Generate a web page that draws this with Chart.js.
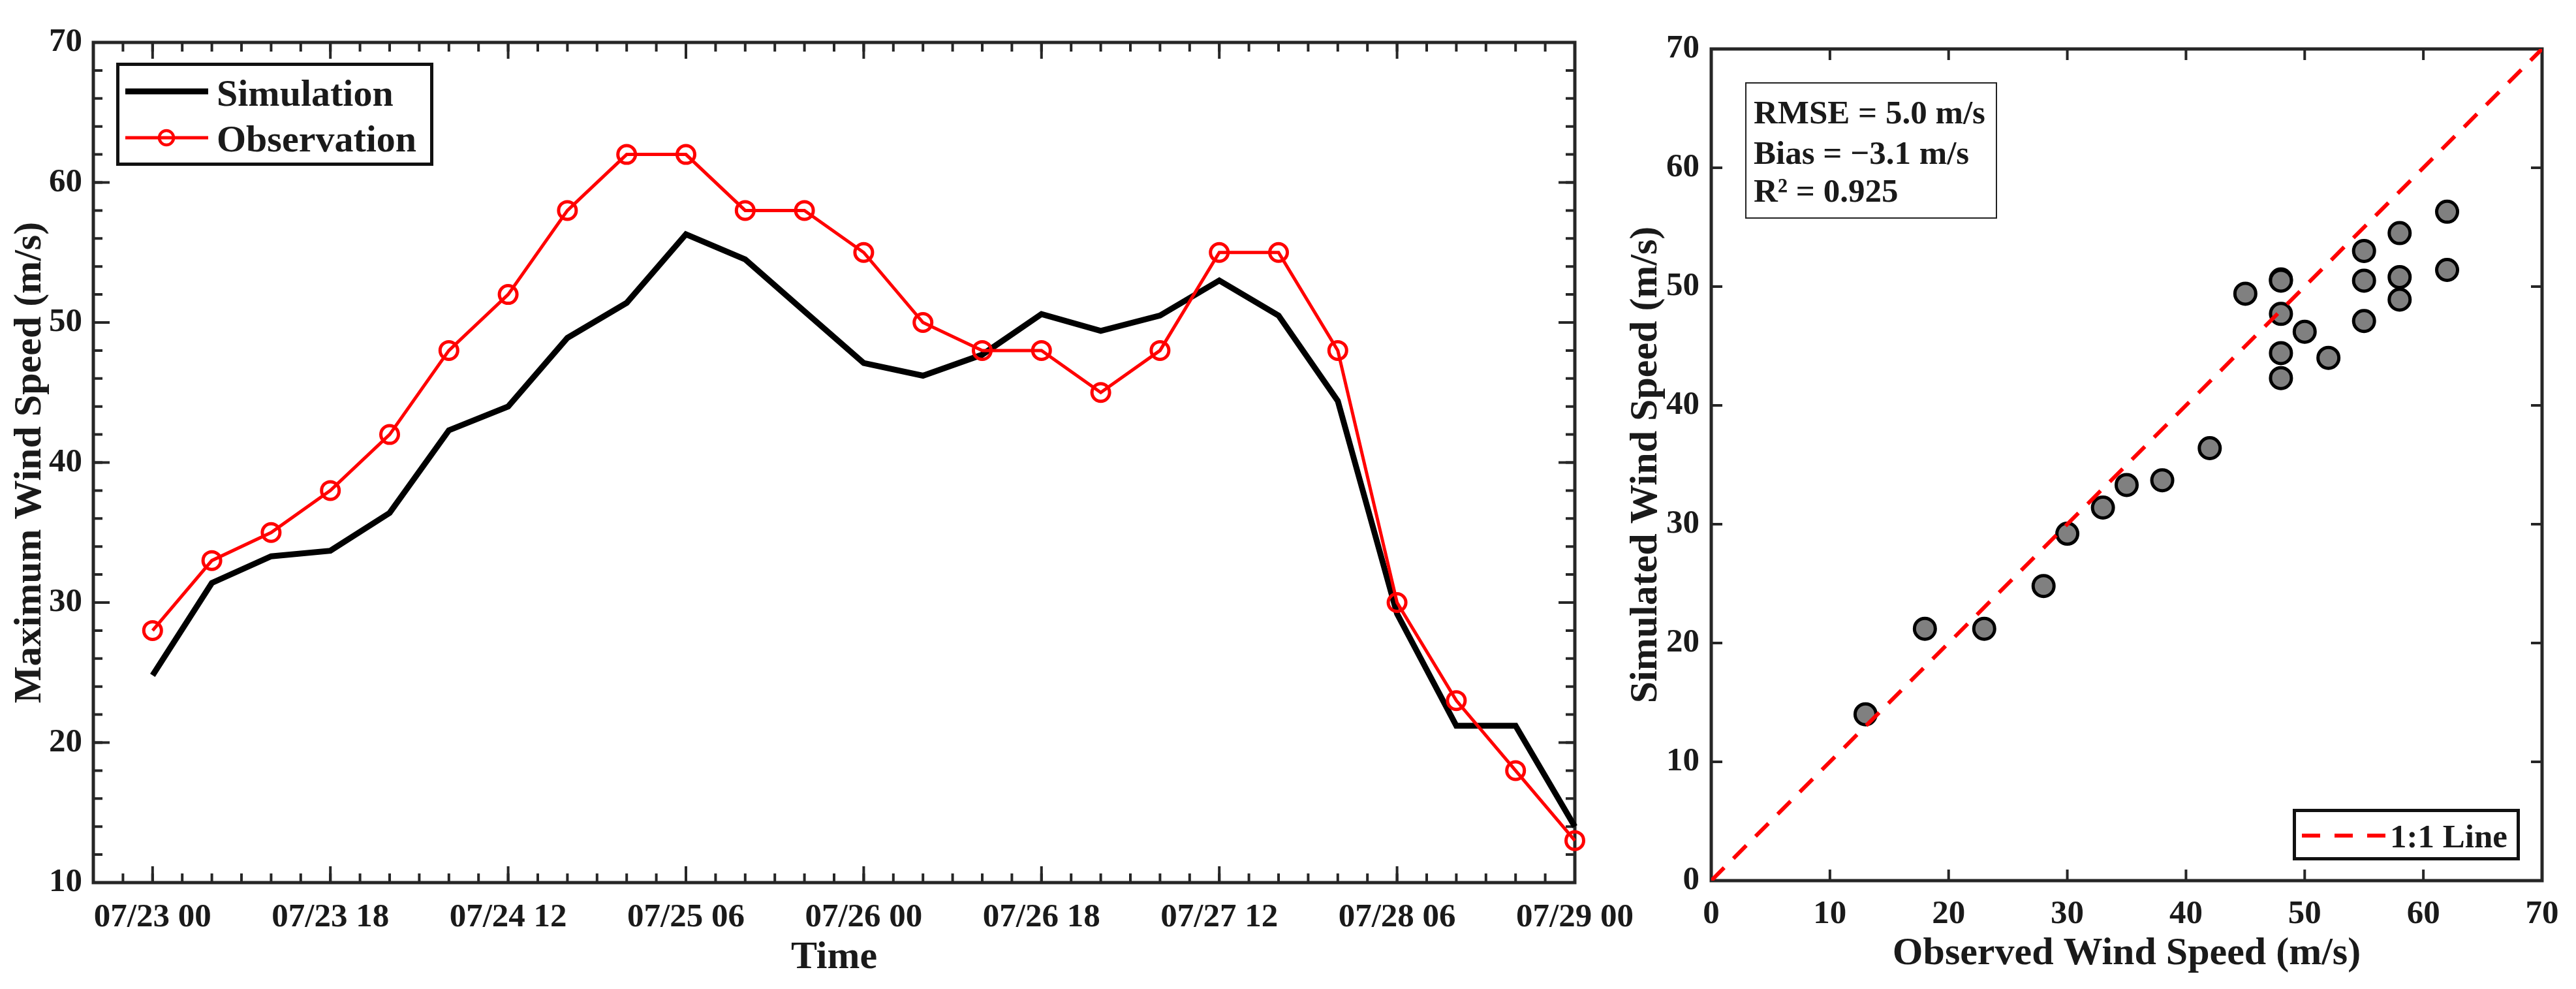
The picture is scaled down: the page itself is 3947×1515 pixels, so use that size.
<!DOCTYPE html>
<html>
<head>
<meta charset="utf-8">
<script src="https://cdn.jsdelivr.net/npm/chart.js@4.4.1/dist/chart.umd.min.js"></script>
<style>
html,body{margin:0;padding:0;background:#fff;width:3947px;height:1515px;overflow:hidden;}
body{font-family:'Liberation Serif','Times New Roman',serif;font-weight:bold;color:#1a1a1a;position:relative;}
canvas{position:absolute;top:0;}
.box{position:absolute;background:#fff;box-sizing:border-box;z-index:2;}
.txt{position:absolute;white-space:nowrap;z-index:4;}
svg.ov{position:absolute;left:0;top:0;z-index:3;pointer-events:none;}
</style>
</head>
<body>
<canvas id="c1" width="2530" height="1515" style="left:0;width:2530px;height:1515px"></canvas>
<canvas id="c2" width="1477" height="1515" style="left:2470px;width:1477px;height:1515px"></canvas>

<!-- left legend -->
<div class="box" style="left:178px;top:96px;width:486px;height:158px;border:5px solid #111;"></div>
<div class="txt" style="left:332px;top:108px;font-size:58px;line-height:70px;">Simulation</div>
<div class="txt" style="left:332px;top:178px;font-size:58px;line-height:70px;">Observation</div>

<!-- stats box -->
<div class="box" style="left:2674px;top:126px;width:386px;height:209px;border:2px solid #222;"></div>
<div class="txt" style="left:2687px;top:142px;font-size:51px;line-height:60px;">RMSE = 5.0 m/s</div>
<div class="txt" style="left:2687px;top:204px;font-size:51px;line-height:60px;">Bias = &minus;3.1 m/s</div>
<div class="txt" style="left:2687px;top:262px;font-size:51px;line-height:60px;">R&sup2; = 0.925</div>

<!-- right legend -->
<div class="box" style="left:3513px;top:1239px;width:348px;height:79px;border:5px solid #111;"></div>
<div class="txt" style="left:3662px;top:1251px;font-size:51px;line-height:60px;">1:1 Line</div>

<svg class="ov" width="3947" height="1515" viewBox="0 0 3947 1515">
  <line x1="192" y1="140" x2="319" y2="140" stroke="#000" stroke-width="9"/>
  <line x1="192" y1="211" x2="319" y2="211" stroke="#ff0000" stroke-width="5"/>
  <circle cx="255" cy="211" r="11" stroke="#ff0000" stroke-width="4.5" fill="none"/>
  <line x1="3527" y1="1280" x2="3655" y2="1280" stroke="#ff0000" stroke-width="6" stroke-dasharray="28 22"/>
</svg>

<script>
// ---------------- DATA ----------------
const timeLabels = [
  '07/23 00','07/23 06','07/23 12','07/23 18',
  '07/24 00','07/24 06','07/24 12','07/24 18',
  '07/25 00','07/25 06','07/25 12','07/25 18',
  '07/26 00','07/26 06','07/26 12','07/26 18',
  '07/27 00','07/27 06','07/27 12','07/27 18',
  '07/28 00','07/28 06','07/28 12','07/28 18',
  '07/29 00'
];
const timeTickLabels = ['07/23 00','07/23 18','07/24 12','07/25 06','07/26 00','07/26 18','07/27 12','07/28 06','07/29 00'];
const simulation  = [24.8,31.4,33.3,33.7,36.4,42.3,44.0,48.9,51.4,56.3,54.5,50.8,47.1,46.2,47.7,50.6,49.4,50.5,53.0,50.5,44.4,29.2,21.2,21.2,14.0];
const observation = [28,33,35,38,42,48,52,58,62,62,58,58,55,50,48,48,45,48,55,55,48,30,23,18,13];
const leftYTicks = [10,20,30,40,50,60,70];
const scatterTicks = [0,10,20,30,40,50,60,70];
const oneToOne = [0,70];

// ---------------- HELPERS ----------------
const FONT = "'Liberation Serif','Times New Roman',serif";
const TXT = '#1a1a1a';
const AX = '#262626';

const framePlugin = {
  id: 'frame',
  beforeDatasetsDraw(chart, args, o) {
    const {ctx, chartArea: a} = chart;
    const xs = chart.scales.x, ys = chart.scales.y;
    ctx.save();
    ctx.strokeStyle = AX;
    ctx.lineCap = 'butt';
    ctx.lineWidth = o.tickWidth;
    const tx = (vals, len) => vals.forEach(v => {
      const p = xs.getPixelForValue(v);
      ctx.beginPath();
      ctx.moveTo(p, a.bottom); ctx.lineTo(p, a.bottom - len);
      ctx.moveTo(p, a.top); ctx.lineTo(p, a.top + len);
      ctx.stroke();
    });
    const ty = (vals, len) => vals.forEach(v => {
      const p = ys.getPixelForValue(v);
      ctx.beginPath();
      ctx.moveTo(a.left, p); ctx.lineTo(a.left + len, p);
      ctx.moveTo(a.right, p); ctx.lineTo(a.right - len, p);
      ctx.stroke();
    });
    tx(o.xMinor, o.minorLen); ty(o.yMinor, o.minorLen);
    tx(o.xMajor, o.majorLen); ty(o.yMajor, o.majorLen);
    ctx.lineWidth = o.frameWidth;
    ctx.strokeRect(a.left, a.top, a.right - a.left, a.bottom - a.top);
    ctx.restore();
  }
};

const majorIdx = timeTickLabels.map(l => timeLabels.indexOf(l));
const xMinorLeft = []; for (let v = -1; v <= timeLabels.length - 1; v += 0.5) xMinorLeft.push(v);
const yMinorLeft = []; for (let v = 10; v <= 70; v += 2) yMinorLeft.push(v);

// ---------------- LEFT CHART ----------------
new Chart(document.getElementById('c1'), {
  type: 'line',
  data: {
    datasets: [
      {
        label: 'Simulation',
        data: simulation.map((y, i) => ({x: i, y})),
        borderColor: '#000', borderWidth: 9, pointRadius: 0, tension: 0,
        clip: false, order: 1, fill: false
      },
      {
        label: 'Observation',
        data: observation.map((y, i) => ({x: i, y})),
        borderColor: '#ff0000', borderWidth: 5, tension: 0,
        pointRadius: 13.5, pointBorderWidth: 5, pointBorderColor: '#ff0000',
        pointBackgroundColor: 'rgba(0,0,0,0)', pointStyle: 'circle',
        clip: false, order: 0, fill: false
      }
    ]
  },
  options: {
    responsive: false, animation: false, devicePixelRatio: 1,
    layout: {padding: {left: 0, top: 65, right: 117, bottom: 0}},
    plugins: {
      legend: {display: false}, tooltip: {enabled: false},
      frame: {xMajor: majorIdx, xMinor: xMinorLeft, yMajor: leftYTicks, yMinor: yMinorLeft,
              majorLen: 25, minorLen: 14, tickWidth: 4, frameWidth: 5}
    },
    scales: {
      x: {
        type: 'linear', min: -1, max: timeLabels.length - 1,
        grid: {display: false}, border: {display: false},
        afterBuildTicks: s => { s.ticks = majorIdx.map(v => ({value: v})); },
        afterFit: s => { s.height = 163; },
        ticks: {
          autoSkip: false, maxRotation: 0, minRotation: 0, padding: 15, color: TXT,
          font: {family: FONT, size: 51, weight: 'bold'},
          callback: v => timeLabels[v]
        },
        title: {display: true, text: 'Time', color: TXT, padding: {top: 0, bottom: 12},
                font: {family: FONT, size: 60, weight: 'bold'}}
      },
      y: {
        type: 'linear', min: 10, max: 70,
        grid: {display: false}, border: {display: false},
        afterBuildTicks: s => { s.ticks = leftYTicks.map(v => ({value: v})); },
        afterFit: s => { s.width = 143; },
        ticks: {padding: 9, color: TXT, font: {family: FONT, size: 51, weight: 'bold'}},
        title: {display: true, text: 'Maximum Wind Speed (m/s)', color: TXT, padding: {top: 10, bottom: 0},
                font: {family: FONT, size: 60, weight: 'bold'}}
      }
    }
  },
  plugins: [framePlugin]
});

// ---------------- RIGHT CHART ----------------
new Chart(document.getElementById('c2'), {
  type: 'scatter',
  data: {
    datasets: [
      {
        type: 'line',
        label: '1:1 Line',
        data: oneToOne.map(v => ({x: v, y: v})),
        borderColor: '#ff0000', borderWidth: 6, borderDash: [28, 20],
        pointRadius: 0, order: 0, fill: false
      },
      {
        type: 'scatter',
        label: 'Points',
        data: observation.map((x, i) => ({x, y: simulation[i]})),
        backgroundColor: '#808080', borderColor: '#000',
        pointRadius: 16, pointBorderWidth: 5, borderWidth: 5,
        clip: false, order: 1
      }
    ]
  },
  options: {
    responsive: false, animation: false, devicePixelRatio: 1,
    layout: {padding: {left: 0, top: 75, right: 52, bottom: 0}},
    plugins: {
      legend: {display: false}, tooltip: {enabled: false},
      frame: {xMajor: scatterTicks, xMinor: [], yMajor: scatterTicks, yMinor: [],
              majorLen: 17, minorLen: 0, tickWidth: 4, frameWidth: 5}
    },
    scales: {
      x: {
        type: 'linear', min: 0, max: 70,
        grid: {display: false}, border: {display: false},
        afterBuildTicks: s => { s.ticks = scatterTicks.map(v => ({value: v})); },
        afterFit: s => { s.height = 166; },
        ticks: {autoSkip: false, maxRotation: 0, padding: 13, color: TXT,
                font: {family: FONT, size: 51, weight: 'bold'}},
        title: {display: true, text: 'Observed Wind Speed (m/s)', color: TXT, padding: {top: 0, bottom: 18},
                font: {family: FONT, size: 60, weight: 'bold'}}
      },
      y: {
        type: 'linear', min: 0, max: 70,
        grid: {display: false}, border: {display: false},
        afterBuildTicks: s => { s.ticks = scatterTicks.map(v => ({value: v})); },
        afterFit: s => { s.width = 152; },
        ticks: {padding: 10, color: TXT, font: {family: FONT, size: 51, weight: 'bold'}},
        title: {display: true, text: 'Simulated Wind Speed (m/s)', color: TXT, padding: {top: 16, bottom: 0},
                font: {family: FONT, size: 60, weight: 'bold'}}
      }
    }
  },
  plugins: [framePlugin]
});
</script>
</body>
</html>
